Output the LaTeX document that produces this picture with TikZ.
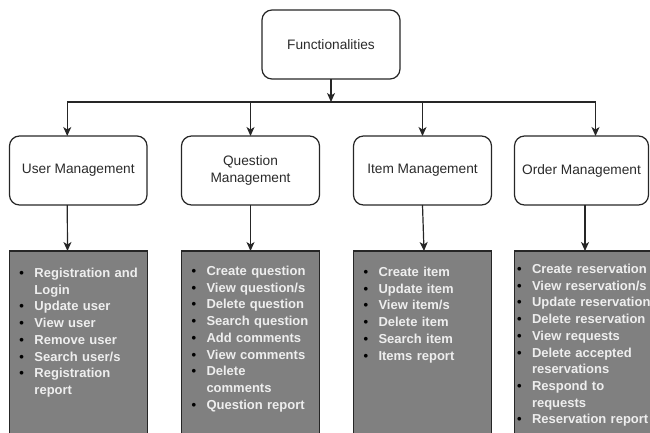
\documentclass[tikz,border=0pt]{standalone}
\usepackage{fontspec}
\setmainfont{Liberation Sans}
\usetikzlibrary{positioning,arrows.meta}

\definecolor{listgray}{HTML}{808080}
\definecolor{listtext}{HTML}{EEEEEE}
\definecolor{headtext}{HTML}{2A2A2A}
\newcommand\bul{\makebox[15pt][l]{\textcolor{black}{\textbullet}}}
\newcommand\cont{\hspace*{15pt}}

\begin{document}
\begin{tikzpicture}
	[
	  x=1pt, y=-1pt,
	  head/.style={draw=black!85, line width=1.2pt, rounded corners=10pt,
	    minimum width=138pt, minimum height=69pt, inner sep=0pt, outer sep=0pt,
	    align=center, text=headtext, font=\fontsize{13.7}{16.7}\selectfont},
	  listbox/.style={draw=black!85, line width=1.2pt, fill=listgray, outer sep=0pt,
	    inner xsep=10pt, inner ysep=16pt, text width=118pt, align=left,
	    text height=9.5pt, text depth=190pt, text=listtext,
	    font=\fontsize{13}{16.7}\selectfont\bfseries},
	  arr/.style={draw=black!85, line width=1.2pt,
	    -{Stealth[length=9pt,width=8pt,inset=2.5pt]}},
	]
	\useasboundingbox (0,0) rectangle (650,432);
	\clip (0,0) rectangle (650,432);
	\node (fun) [head, anchor=north west] at (262,10) {Functionalities};
	\node (um) [head, anchor=north west, minimum width=137.5pt] at (9.5,136) {User Management};
	\node (qm) [head, right=34.5pt of um] {Question\\Management};
	\node (im) [head, right=34pt of qm] {Item Management};
	\node (om) [head, right=23pt of im, minimum width=134pt] {Order Management};
	\coordinate (split) at ([yshift=-23pt]fun.south);

	\node (ul) [listbox, below=46pt of um.south west, anchor=north west, inner ysep=17pt]
	  {\bul\mbox{Registration and}\\ \cont Login\\ \bul Update user\\ \bul View user\\
	   \bul Remove user\\ \bul Search user/s\\ \bul Registration\\ \cont report};
	\node (ql) [listbox, below=46pt of qm.south west, anchor=north west, inner ysep=15pt]
	  {\bul Create question\\ \bul View question/s\\ \bul Delete question\\
	   \bul Search question\\ \bul Add comments\\ \bul View comments\\
	   \bul Delete\\ \cont comments\\ \bul Question report};
	\node (il) [listbox, below=46pt of im.south west, anchor=north west, inner ysep=16pt]
	  {\bul Create item\\ \bul Update item\\ \bul View item/s\\ \bul Delete item\\
	   \bul Search item\\ \bul Items report};
	\node (ol) [listbox, below=46pt of om.south west, anchor=north west, inner ysep=13pt,
	  inner xsep=2.5pt, text width=136pt]
	  {\bul Create reservation\\ \bul View reservation/s\\ \bul\mbox{Update reservation}\\
	   \bul Delete reservation\\ \bul View requests\\ \bul Delete accepted\\
	   \cont reservations\\ \bul Respond to\\ \cont requests\\ \bul Reservation report};

	% tree edges
	\draw [arr] (fun.south) -- (split);
	\draw [arr] (split) -| ([xshift=-11pt]um.north);
	\draw [arr] (split) -| (qm.north);
	\draw [arr] (split) -| (im.north);
	\draw [arr] (split) -| ([xshift=14pt]om.north);

	\draw [arr] ([xshift=-11pt]um.south) -- ([xshift=-11pt]ul.north);
	\draw [arr] (qm.south) -- (ql.north);
	\draw [arr] (im.south) -- ([xshift=1.5pt]il.north);
	\draw [arr] (om.south -| ol.north) -- (ol.north);
\end{tikzpicture}
\end{document}
